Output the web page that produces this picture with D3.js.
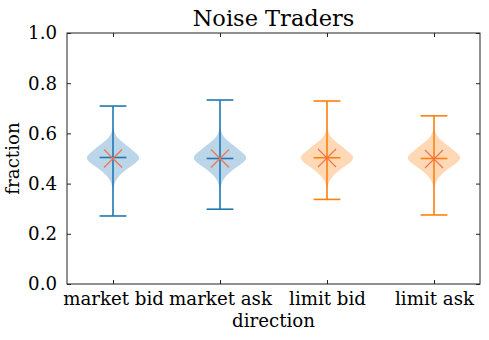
<!DOCTYPE html>
<html>
<head>
<meta charset="utf-8">
<script src="https://cdn.jsdelivr.net/npm/d3@7"></script>
<style>
  body { margin: 0; background: #fff; }
  svg text { font-family: "DejaVu Serif", serif; fill: #000; }
</style>
</head>
<body>
<script>
// categories and their colours
const categories = ["market bid", "market ask", "limit bid", "limit ask"];
const colors = ["#1f77b4", "#1f77b4", "#ff7f0e", "#ff7f0e"];

const maxValues = [0.709, 0.733, 0.729, 0.670];
const minValues = [0.271, 0.298, 0.337, 0.275];
const medianValues = [0.504, 0.500, 0.503, 0.500];
const meanValues = [0.500, 0.500, 0.502, 0.498];

// violin outline: value vs relative half width (same look for each violin)
const profileValues = [0.38, 0.40, 0.422, 0.446, 0.466, 0.486, 0.502, 0.514, 0.534, 0.554, 0.57, 0.585, 0.60, 0.62];
const profileWidths = [0.01, 0.05, 0.15, 0.37, 0.63, 0.90, 1.00, 0.95, 0.72, 0.48, 0.30, 0.15, 0.06, 0.02];

const yTicks = [0.0, 0.2, 0.4, 0.6, 0.8, 1.0];

const width = 489, height = 340;
const margin = { top: 33, right: 9, bottom: 56, left: 67 };
const w = width - margin.left - margin.right;
const h = height - margin.top - margin.bottom;

const svg = d3.select("body").append("svg")
  .attr("width", width)
  .attr("height", height);

const g = svg.append("g")
  .attr("transform", `translate(${margin.left},${margin.top})`);

const x = d3.scaleLinear().domain([0.57, 4.43]).range([0, w]);
const y = d3.scaleLinear().domain([0, 1]).range([h, 0]);
const unit = x(1) - x(0);

// violins
const area = d3.area()
  .y((d) => y(d[0]))
  .x0((d) => -d[1] * 0.25 * unit)
  .x1((d) => d[1] * 0.25 * unit)
  .curve(d3.curveBasis);

categories.forEach((c, i) => {
  const cx = x(i + 1);
  const vg = g.append("g").attr("transform", `translate(${cx},0)`);
  const prof = profileValues.map((v, j) => [v, profileWidths[j]]);
  vg.append("path")
    .datum(prof)
    .attr("d", area)
    .attr("fill", colors[i])
    .attr("fill-opacity", 0.3);

  const capW = 0.125 * unit;
  vg.append("line")
    .attr("x1", 0).attr("x2", 0)
    .attr("y1", y(minValues[i])).attr("y2", y(maxValues[i]))
    .attr("stroke", colors[i]).attr("stroke-width", 1.6);
  [minValues[i], maxValues[i], medianValues[i]].forEach((v) => {
    vg.append("line")
      .attr("x1", -capW).attr("x2", capW)
      .attr("y1", y(v)).attr("y2", y(v))
      .attr("stroke", colors[i]).attr("stroke-width", 1.6);
  });

  // mean marker ("x")
  const m = 9, my = y(meanValues[i]);
  vg.append("path")
    .attr("d", `M${-m},${my - m}L${m},${my + m}M${-m},${my + m}L${m},${my - m}`)
    .attr("stroke", "#f4714a")
    .attr("stroke-width", 1.1)
    .attr("fill", "none");
});

// frame
g.append("rect")
  .attr("width", w).attr("height", h)
  .attr("fill", "none").attr("stroke", "#222").attr("stroke-width", 1);

// axes with inward ticks
const ax = g.append("g").attr("transform", `translate(0,${h})`)
  .call(d3.axisBottom(x).tickValues([1, 2, 3, 4])
    .tickFormat((d) => categories[d - 1]).tickSizeInner(-4).tickSizeOuter(0).tickPadding(8));
const axTop = g.append("g")
  .call(d3.axisTop(x).tickValues([1, 2, 3, 4]).tickFormat("").tickSizeInner(-4).tickSizeOuter(0));
const ay = g.append("g")
  .call(d3.axisLeft(y).tickValues(yTicks).tickFormat(d3.format(".1f"))
    .tickSizeInner(-4).tickSizeOuter(0).tickPadding(10));
const ayR = g.append("g").attr("transform", `translate(${w},0)`)
  .call(d3.axisRight(y).tickValues(yTicks).tickFormat("").tickSizeInner(-4).tickSizeOuter(0));

[ax, axTop, ay, ayR].forEach((a) => {
  a.select(".domain").remove();
  a.selectAll("line").attr("stroke", "#222");
  a.selectAll("text").style("font-family", "DejaVu Serif, serif").style("font-size", "18.2px").attr("fill", "#000");
});

// titles
svg.append("text")
  .attr("x", margin.left + w / 2).attr("y", 26)
  .attr("text-anchor", "middle")
  .style("font-size", "22.5px")
  .text("Noise Traders");

svg.append("text")
  .attr("x", margin.left + w / 2).attr("y", 327)
  .attr("text-anchor", "middle")
  .style("font-size", "18.2px")
  .text("direction");

svg.append("text")
  .attr("transform", `translate(19,${margin.top + h / 2}) rotate(-90)`)
  .attr("text-anchor", "middle")
  .style("font-size", "18.2px")
  .text("fraction");
</script>
</body>
</html>
